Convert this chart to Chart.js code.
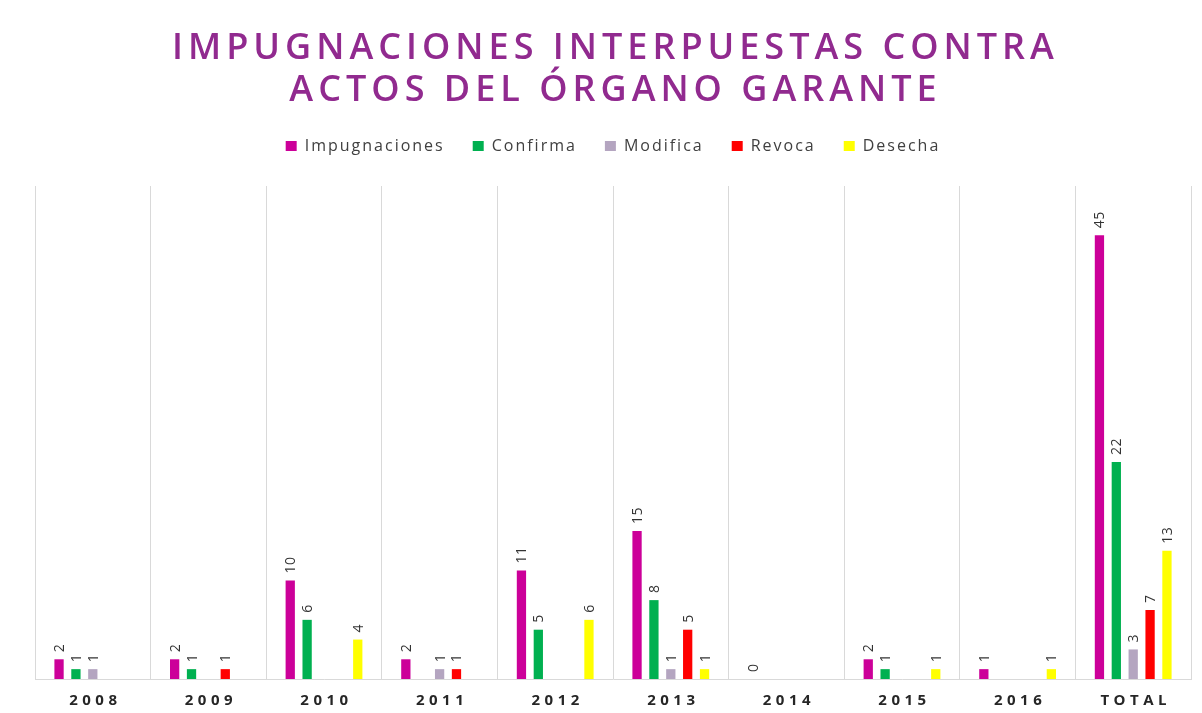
<!DOCTYPE html>
<html lang="es">
<head>
<meta charset="utf-8">
<title>Impugnaciones interpuestas</title>
<script src="https://cdn.jsdelivr.net/npm/chart.js@4.4.1/dist/chart.umd.min.js"></script>
<style>
  html, body { margin: 0; padding: 0; background: #fff; }
  #wrap { width: 1202px; height: 713px; }
</style>
</head>
<body>
<div id="wrap"><canvas id="impugnacionesChart" width="1202" height="713"></canvas></div>
<script>
// datos
const years = ['2008', '2009', '2010', '2011', '2012', '2013', '2014', '2015', '2016', 'TOTAL'];
const impugnaciones = [2, 2, 10, 2, 11, 15, 0, 2, 1, 45];
const confirma = [1, 1, 6, null, 5, 8, null, 1, null, 22];
const modifica = [1, null, null, 1, null, 1, null, null, null, 3];
const revoca = [null, 1, null, 1, null, 5, null, null, null, 7];
const desecha = [null, null, 4, null, 6, 1, null, 1, 1, 13];
const titleLines = ['IMPUGNACIONES INTERPUESTAS CONTRA', 'ACTOS DEL ÓRGANO GARANTE'];

const FONT = '"Open Sans", "Noto Sans", sans-serif';

// titulo con espaciado entre letras
const titlePlugin = {
    id: 'titleText',
    afterDraw(chart) {
        const ctx = chart.ctx;
        const area = chart.chartArea;
        const cx = (area.left + area.right) / 2;
        ctx.save();
        ctx.font = '600 36px ' + FONT;
        ctx.fillStyle = '#912a8f';
        ctx.textAlign = 'center';
        ctx.textBaseline = 'middle';
        ctx.letterSpacing = '5px';
        ctx.fillText(titleLines[0], cx + 2.5, 49);
        ctx.fillText(titleLines[1], cx + 2.5, 91);
        ctx.restore();
    }
};

// etiquetas de datos giradas
const dataLabels = {
    id: 'dataLabels',
    afterDatasetsDraw(chart) {
        const ctx = chart.ctx;
        ctx.save();
        ctx.letterSpacing = '0.5px';
        ctx.font = '14px ' + FONT;
        ctx.fillStyle = '#333333';
        ctx.textAlign = 'left';
        ctx.textBaseline = 'middle';
        chart.data.datasets.forEach((ds, i) => {
            const meta = chart.getDatasetMeta(i);
            meta.data.forEach((bar, j) => {
                const v = ds.data[j];
                if (v === null || v === undefined) return;
                ctx.save();
                ctx.translate(bar.x + 1, bar.y - 7);
                ctx.rotate(-Math.PI / 2);
                ctx.fillText(String(v), 0, 0);
                ctx.restore();
            });
        });
        ctx.restore();
    }
};

// etiquetas del eje x
const xLabels = {
    id: 'xLabels',
    afterDraw(chart) {
        const ctx = chart.ctx;
        const xScale = chart.scales.x;
        ctx.save();
        ctx.font = 'bold 15px ' + FONT;
        ctx.fillStyle = '#262626';
        ctx.textAlign = 'center';
        ctx.textBaseline = 'middle';
        ctx.letterSpacing = '4.5px';
        years.forEach((label, i) => {
            ctx.fillText(label, xScale.getPixelForValue(i) + 2.5, chart.chartArea.bottom + 22);
        });
        ctx.restore();
    }
};

// leyenda: espaciado entre letras y espacio extra debajo
const legendTweaks = {
    id: 'legendTweaks',
    beforeLayout(chart) {
        chart.ctx.letterSpacing = '2px';
        const lg = chart.legend;
        if (lg && !lg._spaced) {
            const fit = lg.fit;
            lg.fit = function() {
                fit.call(this);
                this.height += 22;
            };
            lg._spaced = true;
        }
    },
    afterLayout(chart) {
        chart.ctx.letterSpacing = '0px';
    },
    beforeDraw(chart) {
        chart.ctx.letterSpacing = '2px';
    },
    beforeDatasetsDraw(chart) {
        chart.ctx.letterSpacing = '0px';
    }
};

function makeDataset(label, data, color) {
    return {
        label: label,
        data: data,
        backgroundColor: color,
        borderWidth: 0,
        categoryPercentage: 0.73,
        barPercentage: 0.55
    };
}

const ctx = document.getElementById('impugnacionesChart').getContext('2d');
new Chart(ctx, {
    type: 'bar',
    data: {
        labels: years,
        datasets: [
            makeDataset('Impugnaciones', impugnaciones, '#cc0099'),
            makeDataset('Confirma', confirma, '#00b050'),
            makeDataset('Modifica', modifica, '#b4a5c0'),
            makeDataset('Revoca', revoca, '#ff0000'),
            makeDataset('Desecha', desecha, '#ffff00')
        ]
    },
    options: {
        responsive: false,
        animation: false,
        layout: {
            padding: { top: 110, left: 35, right: 11, bottom: 34 }
        },
        plugins: {
            title: { display: false },
            tooltip: { enabled: false },
            legend: {
                position: 'top',
                labels: {
                    boxWidth: 11,
                    boxHeight: 10,
                    padding: 28,
                    color: '#404040',
                    font: { size: 16, family: FONT }
                }
            }
        },
        scales: {
            x: {
                offset: true,
                grid: { color: '#d9d9d9', offset: true, drawTicks: false },
                border: { color: '#d9d9d9' },
                ticks: { display: false }
            },
            y: {
                display: false,
                min: 0,
                max: 50
            }
        }
    },
    plugins: [titlePlugin, dataLabels, xLabels, legendTweaks]
});
</script>
</body>
</html>
